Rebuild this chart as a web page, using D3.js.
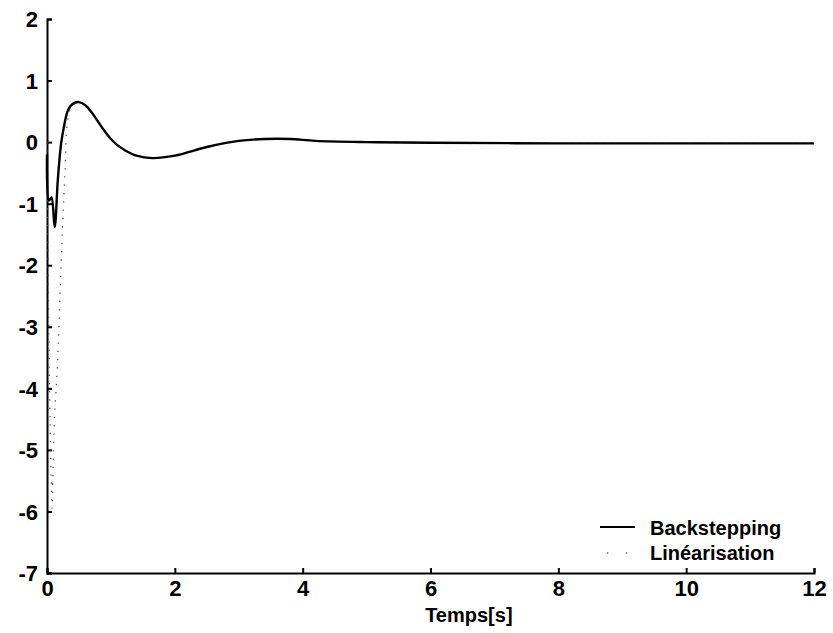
<!DOCTYPE html>
<html><head><meta charset="utf-8">
<script src="https://cdn.jsdelivr.net/npm/d3@7/dist/d3.min.js"></script>
<style>body{margin:0;background:#fff}svg{display:block}text{font-family:"Liberation Sans",Arial,sans-serif;font-weight:bold;fill:#000}</style>
</head><body>
<svg id="c" width="833" height="633"></svg>
<script>
const xTicks = [0, 2, 4, 6, 8, 10, 12];
const yTicks = [2, 1, 0, -1, -2, -3, -4, -5, -6, -7];
const xLabel = "Temps[s]";
const seriesNames = ["Backstepping", "Linéarisation"];

const backT = [0, 0.03, 0.07, 0.12, 0.17, 0.22, 0.27, 0.33, 0.4, 0.5, 0.6, 0.7, 0.8, 0.9, 1.0, 1.1, 1.2, 1.4, 1.65, 2.0, 2.5, 3.0, 3.4, 3.8, 4.2, 5, 6, 8, 10, 12];
const backV = [-0.2, -0.95, -0.9, -1.38, -0.6, -0.03, 0.28, 0.52, 0.62, 0.65, 0.6, 0.48, 0.33, 0.18, 0.05, -0.05, -0.12, -0.22, -0.26, -0.22, -0.08, 0.02, 0.05, 0.05, 0.02, 0.0, -0.01, -0.02, -0.02, -0.02];

const linT = [0, 0.04, 0.08, 0.095, 0.12, 0.16, 0.22, 0.28, 0.33, 0.4, 0.5, 0.6, 0.7, 0.8, 0.9, 1.0, 1.1, 1.2, 1.4, 1.65, 2.0, 2.5, 3.0, 3.4, 3.8, 4.2, 5, 6, 8, 10, 12];
const linV = [0, -4.0, -5.95, -5.3, -4.4, -3.7, -2.0, -0.5, 0.4, 0.6, 0.65, 0.6, 0.48, 0.33, 0.18, 0.05, -0.05, -0.12, -0.22, -0.26, -0.22, -0.08, 0.02, 0.05, 0.05, 0.02, 0.0, -0.01, -0.02, -0.02, -0.02];

const svg = d3.select("#c");
const x = d3.scaleLinear().domain([0, 12]).range([47, 814]);
const y = d3.scaleLinear().domain([-7, 2]).range([573, 19]);

const xAxis = svg.append("g").attr("transform", `translate(0,${y(-7)})`)
  .call(d3.axisBottom(x).tickValues(xTicks).tickSize(-5).tickPadding(12).tickFormat(d3.format("d")));
const yAxis = svg.append("g").attr("transform", `translate(${x(0)},0)`)
  .call(d3.axisLeft(y).tickValues(yTicks).tickSize(-5).tickPadding(8).tickFormat(d => d < 0 ? "-" + Math.abs(d) : d));
[xAxis, yAxis].forEach(g => {
  g.select(".domain").attr("stroke", "#000").attr("stroke-width", 2);
  g.selectAll(".tick line").attr("stroke", "#000").attr("stroke-width", 2);
  g.selectAll("text").style("font-size", "22px").style("font-weight", "bold")
    .style("font-family", '"Liberation Sans", Arial, sans-serif').attr("fill", "#000");
});
xAxis.selectAll("text").attr("dy", "0.5em");
yAxis.selectAll("text").attr("dx", "-1").attr("dy", "0.35em");

svg.append("text").attr("x", x(6.6)).attr("y", 622).attr("text-anchor", "middle")
  .style("font-size", "20px").text(xLabel);

const line = d3.line().x(d => x(d[0])).y(d => y(d[1])).curve(d3.curveCatmullRom.alpha(0.5));

svg.append("path").datum(linT.map((t, i) => [t, linV[i]]))
  .attr("d", line).attr("fill", "none").attr("stroke", "#555").attr("stroke-width", 1.3)
  .attr("stroke-dasharray", "1.3,7");

svg.append("path").datum(backT.map((t, i) => [t, backV[i]]))
  .attr("d", line).attr("fill", "none").attr("stroke", "#000").attr("stroke-width", 2.4)
  .attr("stroke-linejoin", "round");

const lg = svg.append("g");
lg.append("line").attr("x1", 600).attr("x2", 635).attr("y1", 527).attr("y2", 527)
  .attr("stroke", "#000").attr("stroke-width", 2);
lg.append("line").attr("x1", 607).attr("x2", 628).attr("y1", 553).attr("y2", 553)
  .attr("stroke", "#666").attr("stroke-width", 1.3).attr("stroke-dasharray", "1.3,17.5");
lg.append("text").attr("x", 650).attr("y", 535).style("font-size", "20px").text(seriesNames[0]);
lg.append("text").attr("x", 650).attr("y", 560).style("font-size", "20px").text(seriesNames[1]);
</script>
</body></html>
